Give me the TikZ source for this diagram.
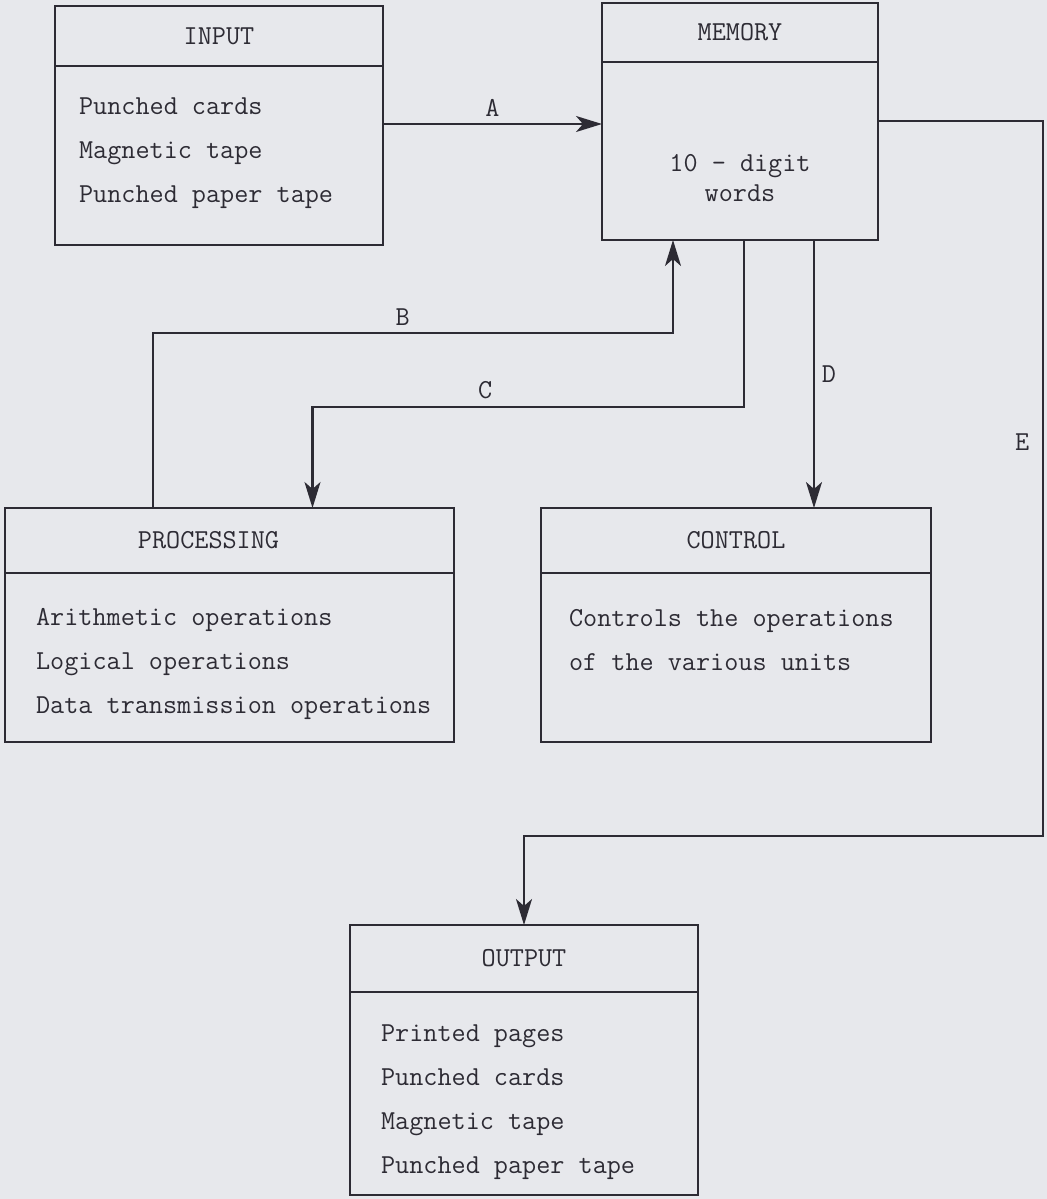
\documentclass[tikz,border=0pt]{standalone}
\usetikzlibrary{arrows.meta,positioning}

\definecolor{ink}{RGB}{45,43,52}
\definecolor{paperbg}{RGB}{231,232,236}
\newcommand{\unitfont}{\ttfamily\fontsize{13.7pt}{22pt}\selectfont}
\newcommand{\memfont}{\ttfamily\fontsize{13.7pt}{15pt}\selectfont}

\begin{document}
\begin{tikzpicture}[x=0.5pt,y=-0.5pt,->,>={Stealth[length=13pt,width=8pt,inset=3.5pt]},line width=1.1pt,color=ink,head/.style={draw,rectangle,inner sep=0pt,outer sep=0pt,anchor=north west,font=\unitfont}, body/.style={draw,rectangle,inner sep=0pt,outer sep=0pt}, lines/.style={font=\unitfont,align=left,inner sep=0pt,anchor=west}, tag/.style={font=\unitfont}]

  \fill[paperbg,-] (0,0) rectangle (1047,1199);

  \node[head,minimum width=164pt,minimum height=30pt] (in-head) at (55,6) {INPUT};
  \node[body,minimum width=164pt,minimum height=89.5pt,below=0pt of in-head] (in-body) {};
  \node[lines] (in-text) at (78,153) {Punched cards\\Magnetic tape\\Punched paper tape};

  \node[head,minimum width=138pt,minimum height=29.5pt] (mem-head) at (602,3) {MEMORY};
  \node[body,minimum width=138pt,minimum height=89pt,below=0pt of mem-head] (mem-body) {};
  \node[font=\memfont,align=center,inner sep=0pt] (mem-text) at (740,178) {10 - digit\\words};

  \node[head,minimum width=224.5pt,minimum height=32.5pt] (proc-head) at (5,508) {PROCESSING\hspace*{21pt}};
  \node[body,minimum width=224.5pt,minimum height=84.5pt,below=0pt of proc-head] (proc-body) {};
  \node[lines] (proc-text) at (35,664) {Arithmetic operations\\Logical operations\\Data transmission operations};

  \node[head,minimum width=195pt,minimum height=32.5pt] (ctl-head) at (541,508) {CONTROL};
  \node[body,minimum width=195pt,minimum height=84.5pt,below=0pt of ctl-head] (ctl-body) {};
  \node[lines] (ctl-text) at (568,640) {Controls the operations\\of the various units};

  \node[head,minimum width=174pt,minimum height=33.5pt] (out-head) at (350,925) {OUTPUT};
  \node[body,minimum width=174pt,minimum height=101.5pt,below=0pt of out-head] (out-body) {};
  \node[lines] (out-text) at (380,1102) {Printed pages\\Punched cards\\Magnetic tape\\Punched paper tape};

  \coordinate (a-lev) at (0,124);
  \coordinate (b-lev) at (0,333);
  \coordinate (c-lev) at (0,407);
  \coordinate (e-top) at (0,121);
  \coordinate (e-lev) at (0,836);
  \coordinate (b-out) at ([xshift=74pt]proc-head.north west);
  \coordinate (b-in) at ([xshift=-33.5pt]mem-body.south);
  \coordinate (c-out) at ([xshift=2pt]mem-body.south);
  \coordinate (c-in) at ([xshift=41.5pt]proc-head.north);
  \coordinate (d-out) at ([xshift=37pt]mem-body.south);

  \draw (in-body.east |- a-lev) -- node[tag,above] (lab-a) {A} (mem-body.west |- a-lev);
  \draw (b-out) |- node[tag,above,pos=0.74] (lab-b) {B} (b-in |- b-lev) -- (b-in);
  \draw (c-out) |- node[tag,above,pos=0.8] (lab-c) {C} (c-in |- c-lev) -- (c-in);
  \draw (d-out) -- node[tag,right] (lab-d) {D} (d-out |- ctl-head.north);
  \draw (mem-body.east |- e-top) -- ++(165,0) |- node[tag,left=3pt,pos=0.2245] (lab-e) {E} (out-head.north |- e-lev) -- (out-head.north);
\end{tikzpicture}
\end{document}
